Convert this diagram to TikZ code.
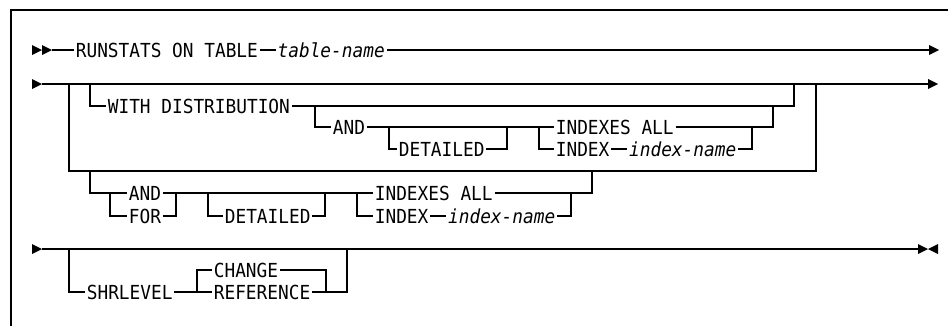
\documentclass[tikz,border=0pt]{standalone}
\usepackage{fontspec}
\setmonofont[FakeStretch=0.92]{DejaVu Sans Mono}
\usetikzlibrary{positioning}
\newcommand{\rtri}[1]{\fill (#1) ++(0,-5) -- ++(10,5) -- ++(-10,5) -- cycle;}
\newcommand{\ltri}[1]{\fill (#1) ++(0,-5) -- ++(-10,5) -- ++(10,5) -- cycle;}

\begin{document}
\begin{tikzpicture}[x=0.75pt, y=-0.75pt, line width=0.8pt, node distance=12pt,
  every node/.style={font=\ttfamily\fontsize{14.5}{17}\selectfont},
  kw/.style={anchor=west, inner xsep=1pt, inner ysep=0pt, text height=10.6pt, text depth=0pt},
  var/.style={kw, font=\ttfamily\itshape\fontsize{14.5}{17}\selectfont}]
\useasboundingbox (0,0) rectangle (948,326);
\draw[line width=1.2pt] (11,326) -- (11,10) -- (948,10);

% row 1
\coordinate (s1) at (52,50);
\coordinate (e1) at (929,50);
\rtri{32,50} \rtri{42,50}
\node[kw] (rs) at (74,50) {RUNSTATS ON TABLE};
\node[var, right=of rs] (tn) {table-name};
\draw (s1) -- (rs.west);
\draw (rs.east) -- (tn.west);
\draw (tn.east) -- (e1);
\rtri{e1}

% row 2
\coordinate (s2) at (42,84);
\coordinate (e2) at (928,84);
\coordinate (o1) at (69,84);
\coordinate (o2) at (816,171);
\coordinate (w1) at (90,84);
\coordinate (w2) at (794,84);
\coordinate (a1) at (315,106);
\coordinate (a2) at (773,106);
\coordinate (d1) at (389,127);
\coordinate (d2) at (507,127);
\coordinate (c1) at (539,127);
\coordinate (c2) at (752,127);
\rtri{32,84}
\draw (s2) -- (e2);
\rtri{e2}
\draw (o1) |- (o2) -- (o2 |- o1);
\node[kw] (wd) at (106,106) {WITH DISTRIBUTION};
\node[kw] (and1) at (331,127) {AND};
\node[kw] (det1) at (397,149) {DETAILED};
\node[kw] (ia1) at (554,127) {INDEXES ALL};
\node[kw] (ix1) at (554,149) {INDEX};
\node[var, right=of ix1] (inm1) {index-name};
\draw (w1) |- (wd.west);
\draw (wd.east) -| (w2);
\draw (a1) |- (and1.west);
\draw (and1.east) -- (ia1.west);
\draw (d1) |- (det1.west);
\draw (det1.east) -| (d2);
\draw (c1) |- (ix1.west);
\draw (ix1.east) -- (inm1.west);
\draw (inm1.east) -| (c2);
\draw (ia1.east) -| (a2);

\coordinate (b1) at (90,171);
\coordinate (b2) at (592,171);
\coordinate (f1) at (110,193);
\coordinate (f2) at (176,193);
\coordinate (g1) at (208,193);
\coordinate (g2) at (325,193);
\coordinate (h1) at (357,193);
\coordinate (h2) at (571,193);
\node[kw] (and2) at (127,193) {AND};
\node[kw] (for2) at (127,216) {FOR};
\node[kw] (det2) at (223,216) {DETAILED};
\node[kw] (ia2) at (373,193) {INDEXES ALL};
\node[kw] (ix2) at (373,216) {INDEX};
\node[var, right=of ix2] (inm2) {index-name};
\draw (b1) |- (and2.west);
\draw (f1) |- (for2.west);
\draw (for2.east) -| (f2);
\draw (and2.east) -- (ia2.west);
\draw (g1) |- (det2.west);
\draw (det2.east) -| (g2);
\draw (h1) |- (ix2.west);
\draw (ix2.east) -- (inm2.west);
\draw (inm2.east) -| (h2);
\draw (ia2.east) -| (b2);

% row 3
\coordinate (s3) at (42,249);
\coordinate (e3) at (918,249);
\coordinate (r1) at (69,249);
\coordinate (r2) at (347,249);
\coordinate (k1) at (197,292);
\coordinate (k2) at (326,292);
\rtri{32,249}
\draw (s3) -- (e3);
\rtri{e3} \ltri{938,249}
\node[kw] (shr) at (85,292) {SHRLEVEL};
\node[kw] (chg) at (212,270) {CHANGE};
\node[kw] (ref) at (212,292) {REFERENCE};
\draw (r1) |- (shr.west);
\draw (shr.east) -- (ref.west);
\draw (k1) |- (chg.west);
\draw (chg.east) -| (k2);
\draw (ref.east) -| (r2);
\end{tikzpicture}
\end{document}
